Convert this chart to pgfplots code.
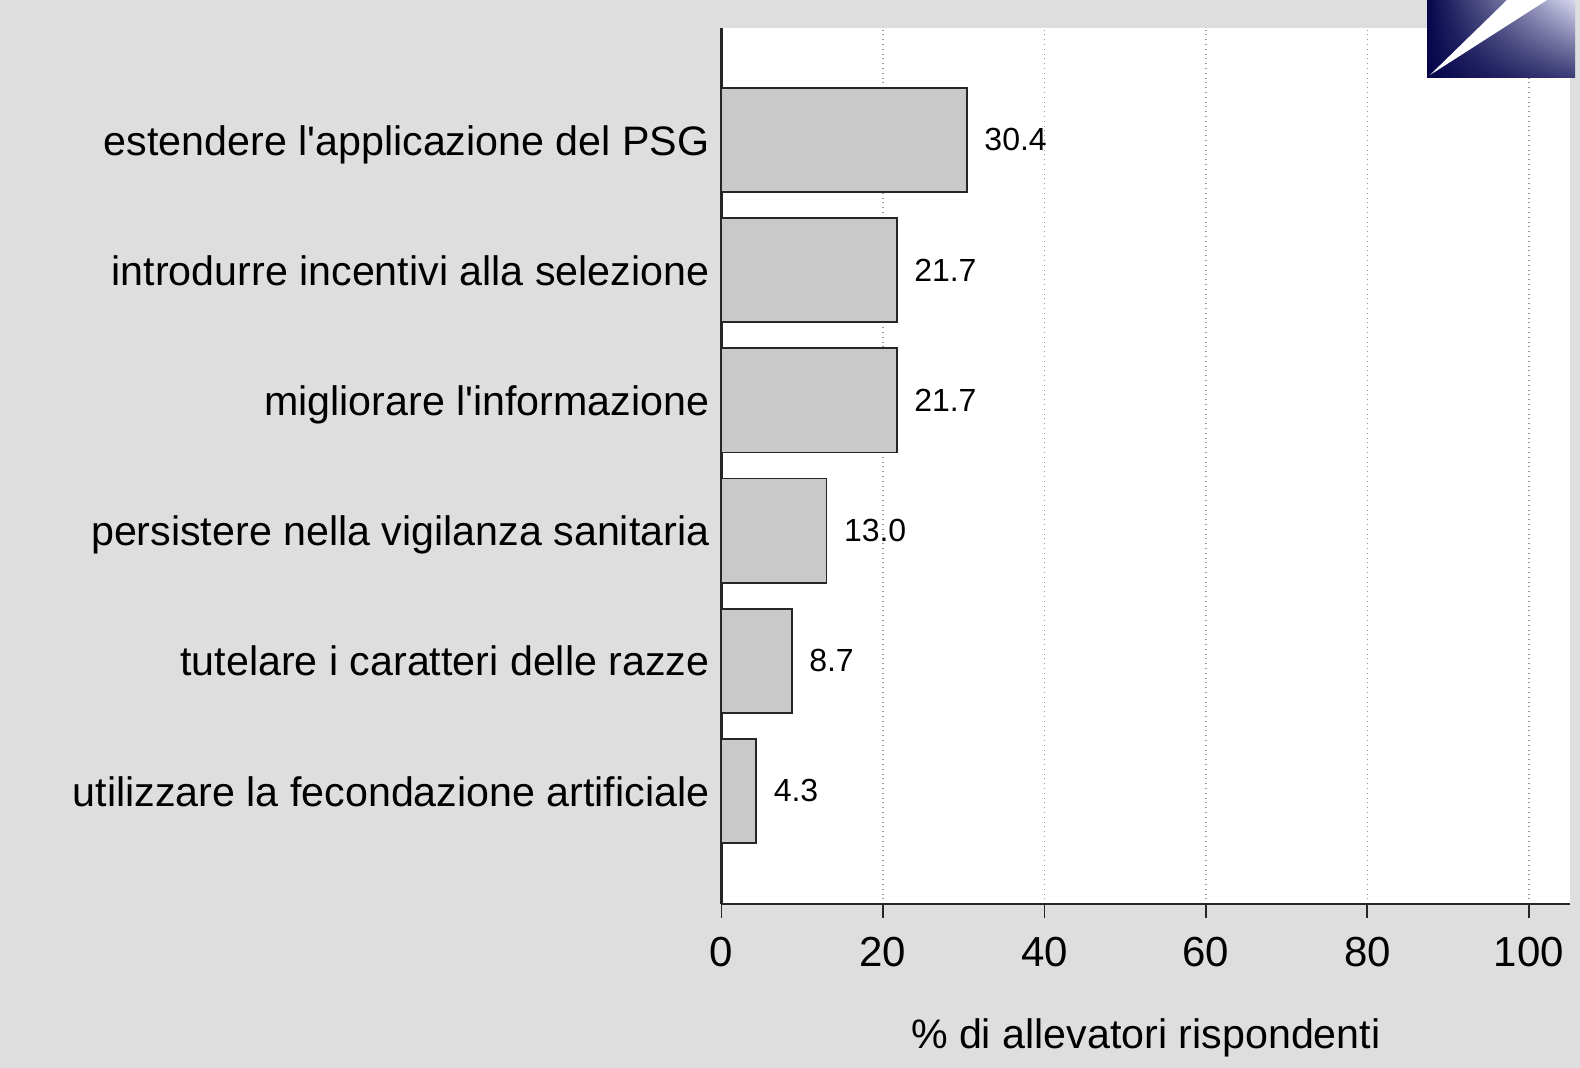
\documentclass[border=0pt]{standalone}
\usepackage{pgfplots}
\pgfplotsset{compat=1.18}
\usetikzlibrary{shadings}
\usepackage{fontspec}
\setmainfont{Liberation Sans}
\definecolor{bgstip}{gray}{0.87}
\definecolor{barfill}{gray}{0.79}
\definecolor{navy}{RGB}{5,5,75}
\definecolor{lav}{RGB}{215,215,240}
\begin{document}
\begin{tikzpicture}[x=1pt,y=1pt]
\fill[bgstip] (0,0) rectangle (790,534);
\useasboundingbox (0,0) rectangle (790,534);
\begin{axis}[
  at={(360.75pt,82pt)}, anchor=south west,
  scale only axis, width=424.25pt, height=438pt,
  xmin=0, xmax=105.1, ymin=-0.868, ymax=5.86,
  axis background/.style={fill=white},
  axis x line*=bottom, axis y line*=left,
  axis line style={-, line width=1.1pt, black!85},
  xbar, bar width=0.8,
  xtick={0,20,40,60,80,100},
  xtick style={line width=0.9pt, black!85},
  tick align=outside, major tick length=7pt,
  ytick={0,1,2,3,4,5},
  yticklabels={utilizzare la fecondazione artificiale, tutelare i caratteri delle razze, persistere nella vigilanza sanitaria, migliorare l\textquotesingle informazione, introdurre incentivi alla selezione, estendere l\textquotesingle applicazione del PSG},
  ytick style={draw=none},
  yticklabel style={font=\fontsize{20.6}{24}\selectfont, anchor=base east, xshift=4.5pt, yshift=-7.6pt},
  xticklabel style={font=\fontsize{21}{24}\selectfont, yshift=-6pt},
  /pgf/number format/assume math mode=true,
  xmajorgrids, grid style={dotted, black!40, line width=0.7pt},
  xlabel={\% di allevatori rispondenti},
  xlabel style={font=\fontsize{20.6}{24}\selectfont, yshift=-19pt},
  nodes near coords, point meta=explicit symbolic,
  every node near coord/.append style={font=\fontsize{16}{19}\selectfont, black, anchor=west, xshift=5pt},
  clip=false,
]
\addplot[draw=black!85, fill=barfill, line width=0.9pt] coordinates {
  (4.3,0) [4.3]
  (8.7,1) [8.7]
  (13.0,2) [13.0]
  (21.7,3) [21.7]
  (21.7,4) [21.7]
  (30.4,5) [30.4]
};
\end{axis}
% logo decoration
\shade[lower left=navy, upper left=navy, lower right=navy!75!lav, upper right=lav] (713.5,495) rectangle (787.5,534);
\fill[white] (715,496.5) -- (753.5,534) -- (773.5,534) -- cycle;
\end{tikzpicture}
\end{document}
